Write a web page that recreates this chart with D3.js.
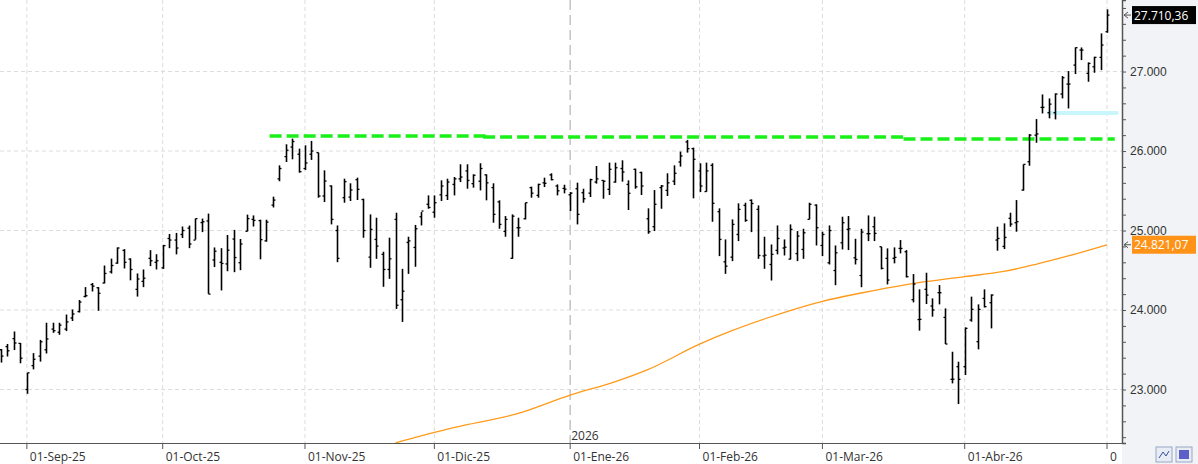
<!DOCTYPE html>
<html><head><meta charset="utf-8">
<script src="https://cdn.jsdelivr.net/npm/d3@7"></script>
<style>body{margin:0;background:#fff;font-family:"Segoe UI","Open Sans",sans-serif}</style>
</head><body><div id="chart"></div>
<script>
// [open, high, low, close] per session
const ohlc = [
[23500,23509,23339,23420],[23540,23573,23415,23487],[23640,23730,23496,23585],[23580,23585,23330,23394],
[23000,23210,22946,23210],[23300,23458,23253,23380],[23420,23624,23351,23600],[23500,23840,23453,23636],
[23760,23840,23713,23740],[23720,23840,23688,23810],[23760,23943,23735,23850],[23900,24007,23862,23950],
[23980,24126,23969,24100],[24170,24288,24160,24180],[24320,24340,24233,24300],[24280,24288,23990,24210],
[24340,24560,24335,24460],[24480,24646,24459,24560],[24590,24787,24582,24780],[24750,24766,24523,24600],
[24640,24650,24374,24510],[24260,24460,24169,24390],[24360,24510,24288,24400],[24650,24753,24552,24620],
[24600,24702,24510,24620],[24530,24820,24518,24810],[24900,24957,24778,24880],[24880,24970,24700,24780],
[24950,25050,24906,25000],[25030,25063,24778,24830],[24880,25150,24885,25150],[25100,25150,24980,25110],
[25120,25213,24203,24200],[24630,24787,24540,24740],[24600,24778,24246,24586],[24580,24944,24488,24752],
[24893,25008,24476,24660],[24595,24893,24501,24830],[24990,25200,24990,25150],[25140,25190,25050,25127],
[25125,25136,24638,24885],[24870,25136,24860,25106],[25320,25426,25290,25383],[25650,25820,25620,25780],
[25930,26085,25862,26010],[26050,26156,25896,26120],[25960,26030,25728,25740],[25780,26072,25762,25850],
[25960,26127,25888,26000],[25980,25980,25413,25434],[25434,25757,25358,25623],[25560,25568,25077,25140],
[25000,25064,24602,24650],[25413,25652,25350,25615],[25420,25594,25371,25510],[25640,25665,25384,25518],
[25390,25400,24909,25000],[24665,25203,24531,25014],[24888,25161,24644,24804],[24700,24733,24292,24510],
[24510,24910,24392,24644],[25140,25224,24014,24060],[24130,24518,23850,24237],[24850,24922,24455,24870],
[24787,25070,24544,25022],[25173,25232,25064,25245],[25330,25442,25274,25290],[25230,25442,25161,25350],
[25450,25631,25371,25560],[25440,25652,25384,25610],[25580,25673,25442,25650],[25650,25833,25610,25673],
[25750,25833,25526,25630],[25590,25707,25539,25695],[25620,25846,25505,25780],[25700,25707,25380,25600],
[25540,25594,25098,25203],[25360,25380,25022,25077],[24989,25182,24922,25140],[24650,25203,24644,25180],
[25035,25161,24922,25035],[25148,25350,25140,25350],[25540,25552,25413,25470],[25442,25589,25413,25580],
[25600,25665,25547,25594],[25700,25720,25631,25640],[25560,25580,25442,25500],[25530,25576,25468,25520],
[25450,25484,25245,25470],[25526,25602,25077,25203],[25476,25526,25350,25400],[25470,25652,25421,25640],
[25610,25812,25590,25650],[25630,25631,25400,25620],[25518,25854,25447,25770],[25610,25854,25602,25790],
[25780,25883,25615,25736],[25580,25631,25258,25468],[25770,25778,25526,25550],[25730,25740,25447,25560],
[25148,25279,24959,24985],[25048,25509,24993,25330],[25540,25572,25274,25560],[25505,25720,25434,25600],
[25620,25820,25572,25720],[25862,25993,25804,25938],[26114,26140,25980,26030],[26030,26043,25405,25896],
[25750,25846,25484,25560],[25490,25854,25488,25750],[25820,25846,25110,25342],[25237,25279,24678,24888],
[24606,24888,24455,24552],[24665,25140,24615,25077],[24950,25342,24867,25266],[25316,25350,25110,25128],
[25380,25392,24980,25340],[25266,25316,24644,24686],[24680,24922,24518,24690],[24573,24825,24371,24700],
[24750,25064,24700,24900],[24780,24888,24686,24790],[24640,25077,24636,25014],[24710,24993,24615,24930],
[24762,25022,24644,24972],[25140,25350,25140,25330],[25320,25329,24812,25035],[24812,24985,24678,24950],
[24594,25064,24573,25000],[24497,24812,24312,24720],[24846,25174,24762,25098],[25014,25182,24754,25022],
[24657,24896,24573,24636],[24434,25022,24287,24980],[24960,25190,24867,24960],[25048,25174,24867,24964],
[24796,24796,24511,24524],[24650,24775,24322,24377],[24650,24788,24587,24662],[24775,24880,24712,24775],
[24733,24754,24410,24419],[24130,24452,24096,24327],[23880,24260,23740,23882],[24260,24469,24075,24188],
[24050,24146,23916,24000],[24218,24314,24071,24218],[23907,24020,23572,23572],[23128,23475,23077,23130],
[23287,23350,22817,23128],[23287,23782,23182,23769],[23874,24168,23853,24008],[23602,24071,23505,24008],
[24146,24260,24033,24042],[24092,24197,23769,24188],[24880,25048,24746,24900],[24800,25090,24767,24913],
[25153,25224,25048,25081],[25098,25383,24985,25111],[25509,25832,25501,25832],[25865,26213,25815,26200],
[26200,26402,26104,26215],[26549,26712,26473,26550],[26482,26662,26411,26590],[26482,26725,26398,26717],
[26717,26943,26662,26922],[26842,27006,26536,26842],[27081,27303,26968,27300],[27270,27303,27144,27270],
[26977,27115,26872,27102],[27060,27186,26985,27178],[27178,27480,27018,27333],[27501,27782,27488,27710]
];
// moving average samples [index, value]
const maIdx = [61,70,80,88,95,100,108,113,118,127,133,140,149,155,160,165,171];
const maVal = [22330,22520,22700,22930,23100,23250,23570,23740,23887,24110,24214,24320,24420,24485,24575,24680,24821];
// green resistance segments [fromIdx, toIdx, value]
const resistance = [[42,75,26190],[75,140,26175],[140,172.2,26150]];
const dateTickIdx = [4,25,47,67,88,108,127,149,171];
const dateTickLbl = ["01-Sep-25","01-Oct-25","01-Nov-25","01-Dic-25","01-Ene-26","01-Feb-26","01-Mar-26","01-Abr-26","0"];
const priceTicks = [23000,24000,25000,26000,27000];
const lastPrice = 27710.36, lastMA = 24821.07;

const W = 1198, H = 464, plotR = 1122, plotB = 443;
const svg = d3.select("#chart").append("svg").attr("width", W).attr("height", H);
const x = d3.scaleLinear().domain([0, 171]).range([1, 1107]);
const y = d3.scaleLinear().domain([22327, 27900]).range([plotB, 0]);
const fmt = d3.formatLocale({decimal: ",", thousands: ".", grouping: [3], currency: ["", ""]});
const f0 = fmt.format(",.0f"), f2 = fmt.format(",.2f");

//right axis background
svg.append("rect").attr("x", plotR).attr("y", 0).attr("width", W - plotR).attr("height", H).attr("fill", "#f1f3f6");

//grid
svg.append("g").selectAll("line").data(priceTicks).join("line")
  .attr("x1", 0).attr("x2", plotR).attr("y1", d => y(d)).attr("y2", d => y(d))
  .attr("stroke", "#dcdcdc").attr("stroke-dasharray", "4,3");
svg.append("g").selectAll("line").data(dateTickIdx).join("line")
  .attr("x1", d => x(d)).attr("x2", d => x(d)).attr("y1", 0).attr("y2", plotB)
  .attr("stroke", (d, i) => i === 4 ? "#c4c4c4" : "#dcdcdc")
  .attr("stroke-width", (d, i) => i === 4 ? 1.5 : 1)
  .attr("stroke-dasharray", (d, i) => i === 4 ? "10,5" : "4,3");
svg.append("text").attr("x", x(88) + 1).attr("y", 440).attr("font-size", 12).attr("fill", "#333").text("2026");

//moving average
svg.append("path").datum(maIdx.map((d, i) => [d, maVal[i]]))
  .attr("d", d3.line().curve(d3.curveMonotoneX).x(d => x(d[0])).y(d => y(d[1])))
  .attr("fill", "none").attr("stroke", "#ff9a1a").attr("stroke-width", 1.3);

//resistance
svg.append("g").selectAll("line").data(resistance).join("line")
  .attr("x1", d => x(d[0]) - 3).attr("x2", d => x(d[1])).attr("y1", d => y(d[2])).attr("y2", d => y(d[2]))
  .attr("stroke", "#19f019").attr("stroke-width", 3.5).attr("stroke-dasharray", "12,5");
// light cyan zone
svg.append("line").attr("x1", x(162)).attr("x2", x(172.5)).attr("y1", y(26480)).attr("y2", y(26480))
  .attr("stroke", "#c8f6fb").attr("stroke-width", 4).attr("stroke-linecap", "round");

//bars
const bars = svg.append("g").attr("stroke", "#000").attr("stroke-width", 1.6);
ohlc.forEach((d, i) => {
  const cx = Math.round(x(i)) + 0.5;
  bars.append("line").attr("x1", cx).attr("x2", cx).attr("y1", y(d[1])).attr("y2", y(d[2]));
  bars.append("line").attr("x1", cx - 2).attr("x2", cx).attr("y1", y(d[0])).attr("y2", y(d[0])).attr("stroke-width", 1.3);
  bars.append("line").attr("x1", cx).attr("x2", cx + 2).attr("y1", y(d[3])).attr("y2", y(d[3])).attr("stroke-width", 1.3);
});

//right axis
const ax = svg.append("g").attr("transform", `translate(${plotR},0)`)
  .call(d3.axisRight(y).tickValues(d3.range(22400, 27900, 200)).tickSize(4).tickFormat(d => d % 1000 === 0 ? f0(d) : ""));
ax.select(".domain").attr("stroke", "#555").attr("stroke-width", 1.5);
ax.selectAll(".tick line").attr("stroke", "#555");
ax.selectAll(".tick text").attr("font-size", 12).attr("fill", "#333").attr("x", 8);

//value badges
function badge(v, bg, txt) {
  const g = svg.append("g").attr("transform", `translate(0,${y(v)})`);
  g.append("path").attr("d", "M1128,-3 L1124,0 L1128,3 M1124,0 L1131,0").attr("stroke", "#555").attr("fill", "none");
  g.append("rect").attr("x", 1132).attr("y", -9).attr("width", 64).attr("height", 18).attr("fill", bg);
  g.append("text").attr("x", 1134).attr("y", 4.5).attr("font-size", 12).attr("fill", "#fff").text(txt);
}
badge(lastPrice, "#000", f2(lastPrice));
badge(lastMA, "#ff9318", f2(lastMA));

//bottom axis
svg.append("rect").attr("x", 0).attr("y", plotB).attr("width", plotR).attr("height", H - plotB).attr("fill", "#fff");
svg.append("line").attr("x1", 0).attr("x2", plotR).attr("y1", plotB + 0.5).attr("y2", plotB + 0.5).attr("stroke", "#555");
const bt = svg.append("g").selectAll("g").data(dateTickIdx).join("g").attr("transform", d => `translate(${x(d)},${plotB})`);
bt.append("line").attr("y1", 0).attr("y2", 6).attr("stroke", "#555");
bt.append("text").attr("x", 3).attr("y", 18).attr("font-size", 12).attr("fill", "#333").text((d, i) => dateTickLbl[i]);

//corner buttons
svg.append("rect").attr("x", 1156).attr("y", 447).attr("width", 16).attr("height", 15).attr("fill", "#e8ecf4").attr("stroke", "#9aa6c6");
svg.append("path").attr("d", "M1159,458 L1163,452 L1166,456 L1169,451").attr("stroke", "#3a4fa0").attr("fill", "none");
svg.append("rect").attr("x", 1176).attr("y", 447).attr("width", 16).attr("height", 15).attr("fill", "#e8ecf4").attr("stroke", "#9aa6c6");
svg.append("rect").attr("x", 1179).attr("y", 450).attr("width", 10).attr("height", 9).attr("fill", "#5b5fc7");
</script></body></html>
